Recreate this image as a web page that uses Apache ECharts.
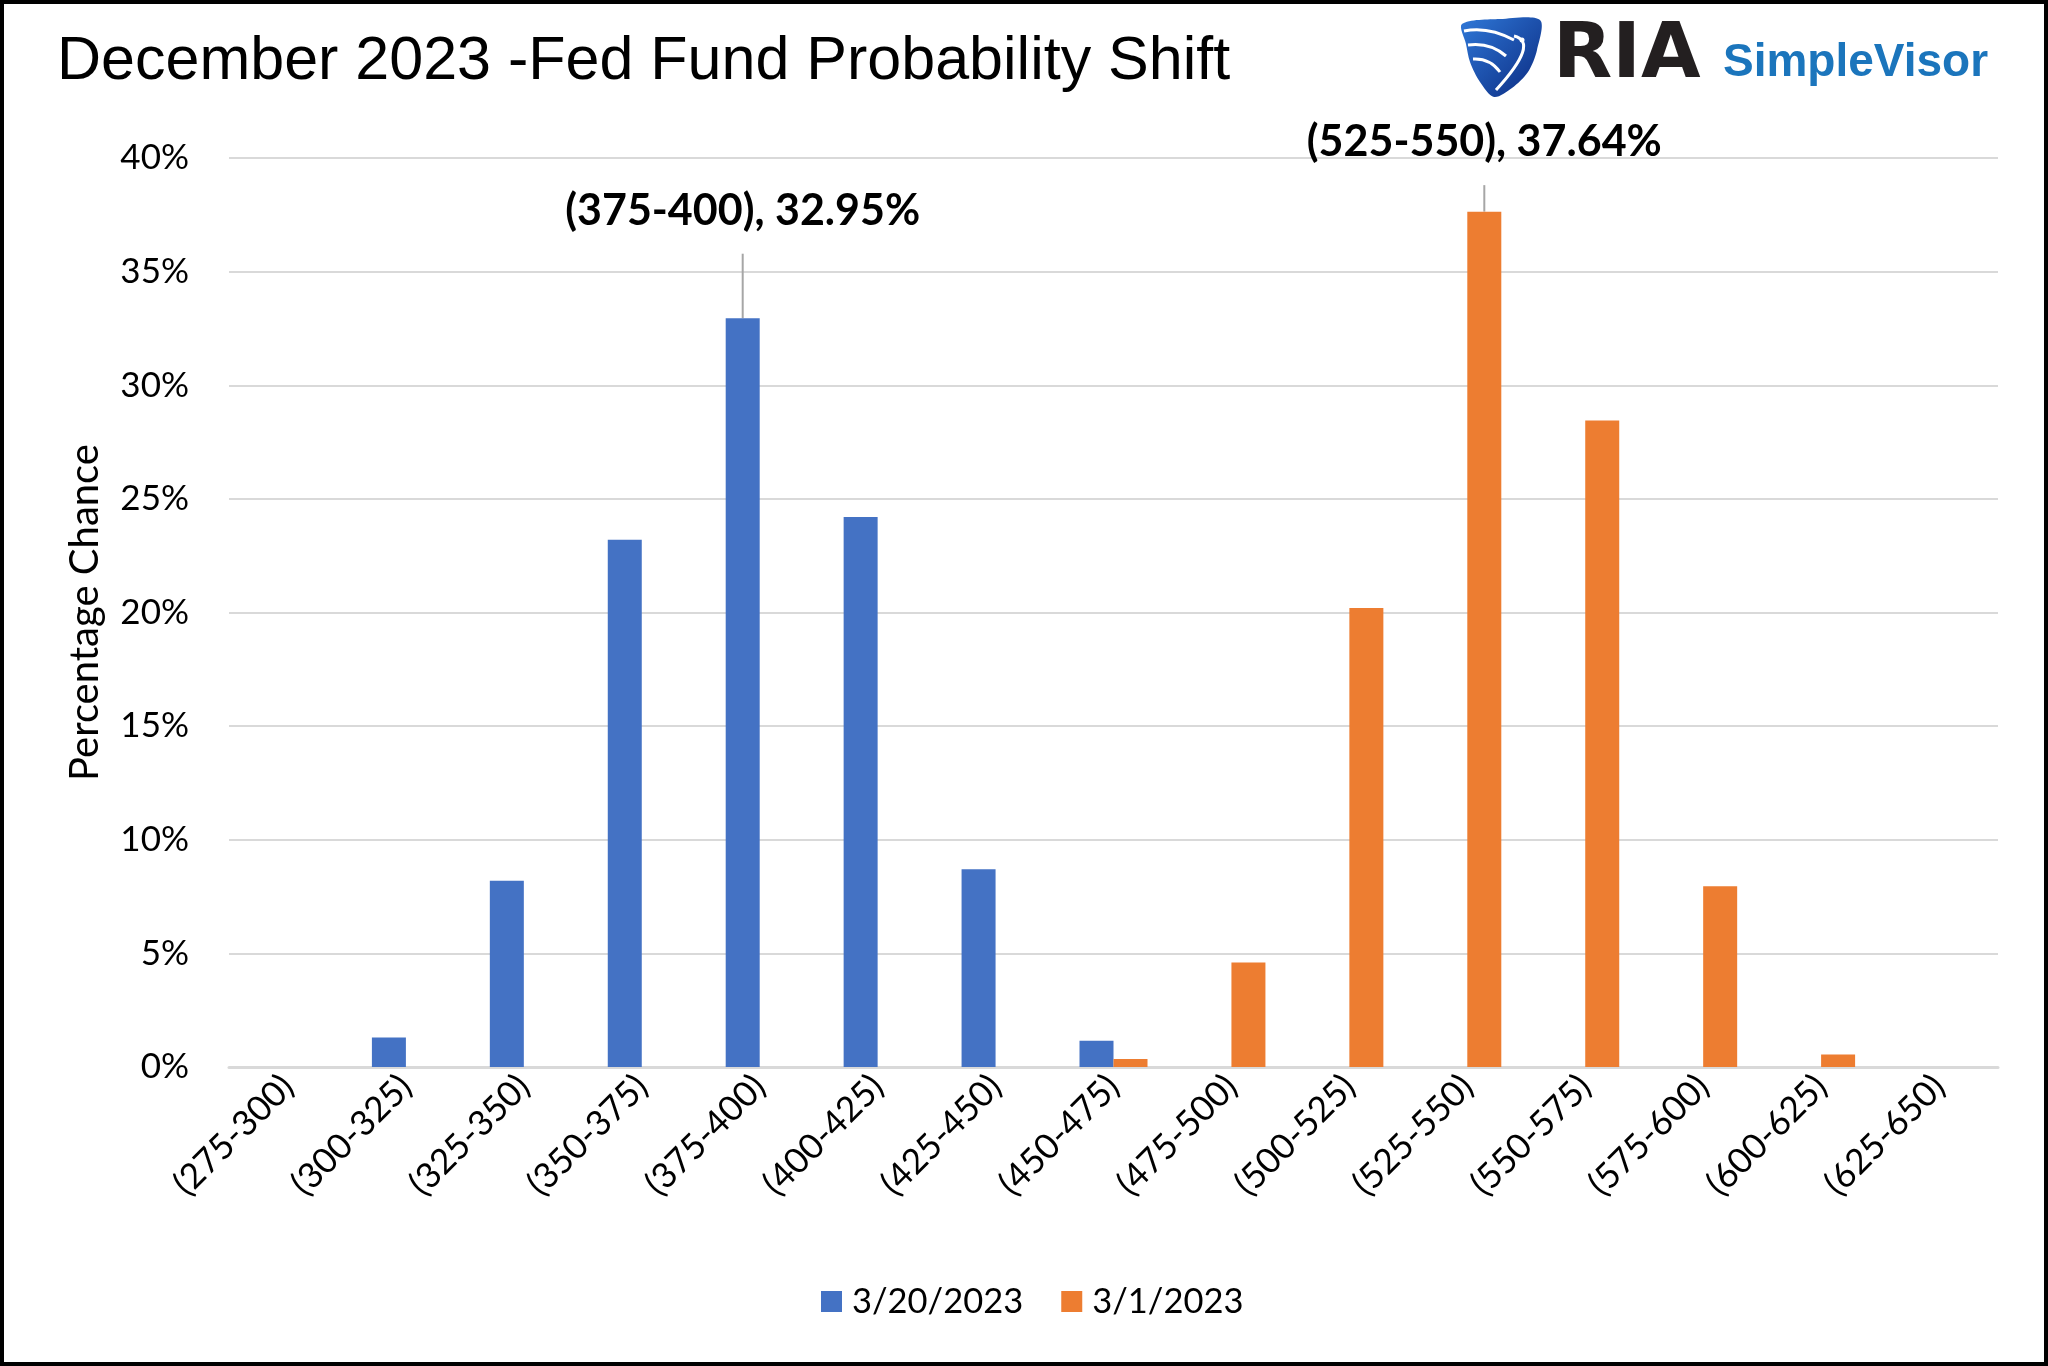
<!DOCTYPE html>
<html>
<head>
<meta charset="utf-8">
<script src="https://cdn.jsdelivr.net/npm/echarts@6/dist/echarts.min.js"></script>
<style>
html,body{margin:0;padding:0;background:#fff;}
#chart{width:2048px;height:1366px;}
</style>
</head>
<body>
<div id="chart"></div>
<script>
const categories = ['(275-300)','(300-325)','(325-350)','(350-375)','(375-400)','(400-425)','(425-450)','(450-475)','(475-500)','(500-525)','(525-550)','(550-575)','(575-600)','(600-625)','(625-650)'];
const seriesNames = ['3/20/2023','3/1/2023'];
const valuesMar20 = [0, 1.3, 8.2, 23.2, 32.95, 24.2, 8.7, 1.15, 0, 0, 0, 0, 0, 0, 0];
const valuesMar1  = [0, 0, 0, 0, 0, 0, 0, 0.35, 4.6, 20.2, 37.64, 28.45, 7.95, 0.55, 0];
const yTicks = [0, 5, 10, 15, 20, 25, 30, 35, 40];
const annotatedMar20 = 4;   // index of labelled bar
const annotatedMar1 = 10;

const chart = echarts.init(document.getElementById('chart'), null, {renderer:'canvas'});

function buildData(vals, annotIdx, dist) {
  return vals.map((v, i) => {
    if (i !== annotIdx) return v;
    return {
      value: v,
      label: {
        show: true,
        position: 'top',
        distance: dist,
        formatter: categories[i] + ', ' + v.toFixed(2) + '%',
        fontFamily: 'Lato',
        fontWeight: 'bold',
        fontSize: 43,
        color: '#000'
      },
      labelLine: { show: true, lineStyle: { color: '#a6a6a6', width: 2 } }
    };
  });
}

const shieldFill = { type: 'linear', x: 0, y: 0, x2: 1, y2: 1,
  colorStops: [{ offset: 0, color: '#2f78d8' }, { offset: 1, color: '#0b2a80' }] };

const option = {
  backgroundColor: '#fff',
  animation: false,
  title: {
    text: 'December 2023 -Fed Fund Probability Shift',
    left: 52, top: 27,
    textStyle: { fontFamily: 'Liberation Sans', fontWeight: 'normal', fontSize: 61, color: '#000' }
  },
  legend: {
    data: seriesNames,
    left: 816, top: 1279,
    itemWidth: 21, itemHeight: 21, itemGap: 38,
    icon: 'rect',
    textStyle: { fontFamily: 'Lato', fontSize: 34.5, color: '#000', padding: [0, 0, 0, 5] }
  },
  grid: { left: 229, right: 50, top: 158, bottom: 299, containLabel: false },
  xAxis: {
    type: 'category',
    data: categories,
    axisLine: { show: true, lineStyle: { color: '#d9d9d9', width: 3 } },
    axisTick: { show: false },
    axisLabel: { rotate: 45, interval: 0, margin: 14, fontFamily: 'Lato', fontSize: 35, color: '#000' }
  },
  yAxis: {
    type: 'value',
    min: yTicks[0], max: yTicks[yTicks.length - 1], interval: 5,
    name: 'Percentage Chance',
    nameLocation: 'middle',
    nameGap: 124,
    nameTextStyle: { fontFamily: 'Lato', fontSize: 40, color: '#000' },
    axisLine: { show: false },
    axisTick: { show: false },
    axisLabel: { formatter: '{value}%', margin: 40, fontFamily: 'Lato', fontSize: 35, color: '#000' },
    splitLine: { lineStyle: { color: '#d9d9d9', width: 2 } }
  },
  series: [
    {
      name: seriesNames[0], type: 'bar', barWidth: 34, barGap: '0%',
      itemStyle: { color: '#4472C4' },
      data: buildData(valuesMar20, annotatedMar20, 86)
    },
    {
      name: seriesNames[1], type: 'bar', barWidth: 34, barGap: '0%',
      itemStyle: { color: '#ED7D31' },
      data: buildData(valuesMar1, annotatedMar1, 48)
    }
  ],
  graphic: [
    { type: 'rect', shape: { x: 2, y: 2, width: 2044, height: 1362 }, style: { fill: 'none', stroke: '#000', lineWidth: 4 }, z: 100 },
    { type: 'polygon', shape: { points: [[1462,24],[1500,19],[1540,20],[1537,50],[1528,72],[1512,88],[1494,97],[1480,82],[1470,62],[1466,44]], smooth: 0.3 },
      style: { fill: shieldFill }, z: 50 },
    { type: 'bezierCurve', shape: { x1: 1464, y1: 31, cpx1: 1488, cpy1: 26, x2: 1514, y2: 40 }, style: { fill: 'none', stroke: '#fff', lineWidth: 3 }, z: 51 },
    { type: 'bezierCurve', shape: { x1: 1468, y1: 45, cpx1: 1490, cpy1: 42, x2: 1506, y2: 56 }, style: { fill: 'none', stroke: '#fff', lineWidth: 3 }, z: 51 },
    { type: 'bezierCurve', shape: { x1: 1473, y1: 59, cpx1: 1490, cpy1: 58, x2: 1500, y2: 72 }, style: { fill: 'none', stroke: '#fff', lineWidth: 3 }, z: 51 },
    { type: 'bezierCurve', shape: { x1: 1514, y1: 36, cpx1: 1540, cpy1: 42, x2: 1496, y2: 90 }, style: { fill: 'none', stroke: '#fff', lineWidth: 3 }, z: 51 },
    { type: 'circle', shape: { cx: 1522, cy: 40, r: 2.5 }, style: { fill: '#fff' }, z: 51 },
    { type: 'text', x: 1553, y: 18, style: { text: 'RIA', font: 'bold 77px "DejaVu Sans"', fill: '#231f20' }, z: 50 },
    { type: 'text', x: 1723, y: 40, style: { text: 'SimpleVisor', font: 'bold 46px "Liberation Sans"', fill: '#1b75bc' }, z: 50 }
  ]
};
chart.setOption(option);
</script>
</body>
</html>
